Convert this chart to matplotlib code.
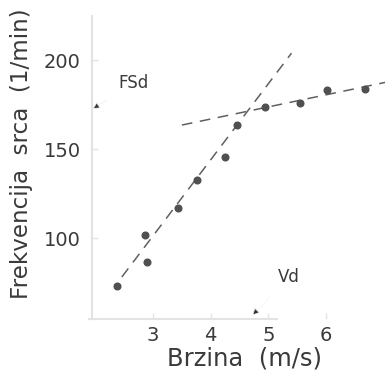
import matplotlib
matplotlib.use("Agg")
import matplotlib.pyplot as plt

# measured points (speed m/s, heart rate 1/min)
brzina = [2.38, 2.86, 2.90, 3.43, 3.76, 4.25, 4.45, 4.94, 5.55, 6.01, 6.68]
frekvencija = [73.0, 101.7, 86.3, 116.7, 132.6, 145.3, 163.5, 173.4, 175.7, 183.1, 183.5]

# the two fitted lines (end points)
strma_x = [2.46, 5.40]
strma_y = [78.1, 203.9]
ravna_x = [3.50, 7.10]
ravna_y = [163.5, 188.0]

x_ticks = [3, 4, 5, 6]
y_ticks = [100, 150, 200]

fsd = 172.5
vd = 4.72

text_col = "#3a3a3a"
axis_col = "#e3e3e3"

fig = plt.figure(figsize=(3.85, 3.76), dpi=100)
ax = fig.add_axes([0.231, 0.1516, 0.769, 0.848])
ax.set_xlim(1.89, 7.02)
ax.set_ylim(54.5, 233.7)

ax.plot(strma_x, strma_y, color="#606060", lw=1.1, dashes=(7, 5))
ax.plot(ravna_x, ravna_y, color="#606060", lw=1.1, dashes=(7, 5))
ax.plot(brzina, frekvencija, "o", color="#505050", ms=4.8, mec="#505050")

for side in ["top", "right"]:
    ax.spines[side].set_visible(False)
ax.spines["left"].set_color(axis_col)
ax.spines["bottom"].set_color(axis_col)
ax.spines["left"].set_linewidth(1.5)
ax.spines["bottom"].set_linewidth(1.5)
ax.spines["left"].set_position(("data", 1.94))
ax.spines["left"].set_bounds(54.5, 225)
ax.spines["bottom"].set_bounds(1.89, 5.15)

ax.set_xticks(x_ticks)
ax.set_yticks(y_ticks)
ax.tick_params(axis="both", colors=axis_col, length=4, width=1, direction="in",
               labelcolor=text_col, labelsize=14)
ax.tick_params(axis="x", pad=5)
ax.tick_params(axis="y", pad=8)

ax.set_xlabel("Brzina  (m/s)", fontsize=17.5, color=text_col)
ax.set_ylabel("Frekvencija  srca  (1/min)", fontsize=16.6, color=text_col)
ax.xaxis.set_label_coords(0.527, -0.085)
ax.yaxis.set_label_coords(-0.19, 0.517)

ax.annotate("FSd", xy=(1.95, fsd), xytext=(2.67, 187), fontsize=12, color=text_col,
            ha="center", va="center",
            arrowprops=dict(arrowstyle="-|>", ec="#f0f0f0", fc="#333333", lw=0.6,
                            mutation_scale=11, shrinkA=8, shrinkB=0))
ax.annotate("Vd", xy=(vd, 56.5), xytext=(5.36, 78), fontsize=12, color=text_col,
            ha="center", va="center",
            arrowprops=dict(arrowstyle="-|>", ec="#f4f4f4", fc="#333333", lw=0.5,
                            mutation_scale=11, shrinkA=8, shrinkB=0))

fig.savefig("out.png", dpi=100)
